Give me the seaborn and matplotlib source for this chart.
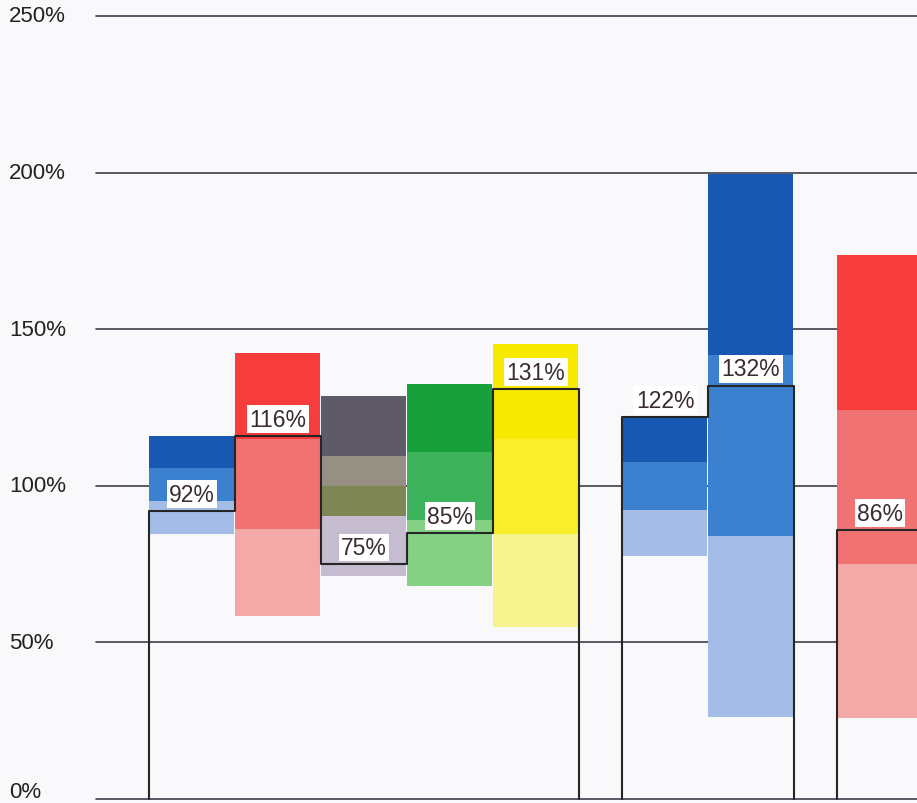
import matplotlib
matplotlib.use("Agg")
import matplotlib.pyplot as plt
import seaborn as sns
import numpy as np
import pandas as pd

# Valeurs (en %)
# limites des 3 paliers de chaque barre : bas, palier 1, palier 2, haut
bar_low = [84.6, 58.4, 71.2, 68.0, 55.0, 77.6, 26.3, 25.8]
bar_q1 = [95.1, 86.2, 90.4, 89.1, 84.6, 92.3, 84.0, 75.0]
bar_q2 = [105.7, 115.0, 109.6, 110.8, 115.0, 107.6, 141.8, 124.2]
bar_high = [115.9, 142.4, 128.7, 132.5, 145.3, 122.0, 199.6, 173.7]

# valeur de la ligne en escalier, par groupe de barres
group_values = [[92, 116, 75, 85, 131], [122, 132], [86]]
group_start = [0, 5.5, 8]

y_ticks = [0, 50, 100, 150, 200, 250]
y_tick_labels = ["0%", "50%", "100%", "150%", "200%", "250%"]

# couleurs des paliers (haut -> bas)
blue = ["#1858b2", "#3c80d0", "#3c80d0", "#a3bde8"]
red = ["#f63c3c", "#f07272", "#f07272", "#f4a9a9"]
gray = ["#5f5a68", "#968f84", "#7e8654", "#c6bccf"]
green = ["#17a03c", "#3db35c", "#3db35c", "#84d184"]
yellow = ["#f7ea00", "#f8ee2a", "#f8ee2a", "#f6f48e"]
bar_colors = [blue, red, gray, green, yellow, blue, blue, red]

sns.set_theme(style="white")
plt.rcParams["font.family"] = ["Liberation Sans", "DejaVu Sans"]

fig = plt.figure(figsize=(9.17, 8.04), dpi=100)
fig.patch.set_facecolor("#f9f9fb")
ax = fig.add_axes([0, 0, 1, 1])
ax.set_facecolor("#f9f9fb")

# barres positions (gauche) calculées depuis les groupes
lefts = []
for start, vals in zip(group_start, group_values):
    lefts += [start + i for i in range(len(vals))]

# lignes horizontales de graduation
for t, lab in zip(y_ticks, y_tick_labels):
    ax.plot([-0.62, 9.5], [t, t], color="#3e3d4a", lw=1.2, zorder=1)
    if t == 0:
        ax.text(-1.63, -1.1, lab, fontsize=16, color="#222222",
                ha="left", va="bottom", zorder=1)
    else:
        ax.text(-1.63, t, lab, fontsize=16, color="#222222",
                ha="left", va="center", zorder=1)

# barres empilées en paliers
for i, x0 in enumerate(lefts):
    lo, q1, q2, hi = bar_low[i], bar_q1[i], bar_q2[i], bar_high[i]
    mid = (q1 + q2) / 2
    segs = [(q2, hi), (mid, q2), (q1, mid), (lo, q1)]
    for (b, t), c in zip(segs, bar_colors[i]):
        ax.bar(x0 + 0.005, t - b, bottom=b, width=0.985, align="edge",
               color=c, edgecolor="none", linewidth=0, zorder=2)

# ligne en escalier
for start, vals in zip(group_start, group_values):
    xs, ys = [start], [0]
    for j, v in enumerate(vals):
        xs += [start + j, start + j + 1]
        ys += [v, v]
    xs.append(start + len(vals))
    ys.append(0)
    df = pd.DataFrame({"x": xs, "y": ys})
    sns.lineplot(data=df, x="x", y="y", sort=False, estimator=None,
                 color="#262626", lw=1.5, ax=ax, zorder=4)

# étiquettes
for start, vals in zip(group_start, group_values):
    for j, v in enumerate(vals):
        ax.text(start + j + 0.5, v + 5.3, f"{v}%", fontsize=16.5,
                color="#3a2b33", ha="center", va="center", zorder=5,
                bbox=dict(boxstyle="square,pad=0.1", fc="white", ec="none"))

ax.set_xlim(-1.733, 8.93)
ax.set_ylim(-1.28, 255.4)
ax.axis("off")

plt.savefig("out.png", dpi=100, facecolor=fig.get_facecolor())
